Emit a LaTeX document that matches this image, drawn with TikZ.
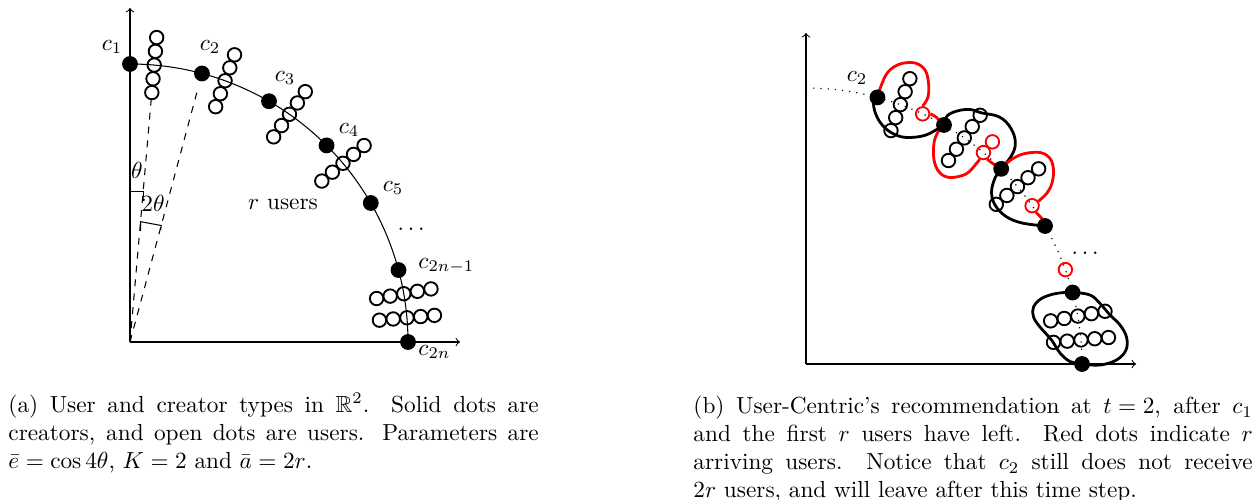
\documentclass[tikz,border=0pt]{standalone}
\usepackage{amsmath,amssymb}
\begin{document}
\begin{tikzpicture}[x=0.43pt,y=-0.43pt,
  creator/.style={circle,fill=black,inner sep=0pt,minimum size=6.8pt},
  user/.style={circle,draw=black,line width=0.8pt,inner sep=0pt,minimum size=5.8pt},
  newuser/.style={user,draw=red},
  axisline/.style={->,line width=0.45pt},
  blob/.style={line width=1.2pt},
  lbl/.style={inner sep=0pt}]
\useasboundingbox (0,0) rectangle (1256,500);

% ---------------- left diagram ----------------
\begin{scope}[shift={(130,342)}]
  \coordinate (LO) at (0,0);
  \coordinate (LYtip) at (0,-334);
  \coordinate (LXtip) at (330,0);
  \draw[axisline] (LO) -- (LYtip);
  \draw[axisline] (LO) -- (LXtip);
  \draw[line width=0.45pt] plot[domain=0:90,samples=90] ({278*sin(\x)},{-278*cos(\x)});
  \coordinate (LD1) at ({243*sin(5)},{-243*cos(5)});
  \coordinate (LD2) at ({262*sin(15)},{-262*cos(15)});
  \draw[dashed,line width=0.45pt] (LO) -- (LD1);
  \draw[dashed,line width=0.45pt] (LO) -- (LD2);
  \draw[line width=0.45pt] (0,-150.3) -- (13.3,-150.3) -- (13.3,-145.3);
  \draw[line width=0.45pt] (10.7,-111) -- (10.7,-120.3) -- (31.2,-116.5) -- (30.7,-112);
  \foreach \i/\a in {1/0,2/15,3/30,4/45,5/60,6/75,7/90}
    \node[creator] (lc\i) at ({278*sin(\a)},{-278*cos(\a)}) {};
  \foreach \r/\a in {1/5,2/20,3/35,4/50,5/80,6/85}
    \foreach \k in {1,...,5}
      \node[user] (lu\r-\k) at ({(278+(\k-3)*13.8)*sin(\a)},{-(278+(\k-3)*13.8)*cos(\a)}) {};
\end{scope}
\node[lbl] (tc1) at (112,47) {$c_1$};
\node[lbl] (tc2) at (210,47) {$c_2$};
\node[lbl] (tc3) at (285,78) {$c_3$};
\node[lbl] (tc4) at (349,130) {$c_4$};
\node[lbl] (tc5) at (393,188) {$c_5$};
\node[lbl,anchor=west] (tc6) at (418,266) {$c_{2n-1}$};
\node[lbl,anchor=west] (tc7) at (418,352) {$c_{2n}$};
\node[lbl] (tdots) at (413,229) {$\dots$};
\node[lbl] (tusers) at (283,204) {$r$ users};
\node[lbl] (tth) at (137,170) {$\theta$};
\node[lbl] (t2th) at (153,203) {$2\theta$};

% ---------------- right diagram ----------------
\begin{scope}[shift={(806,364)}]
  \coordinate (RO) at (0,0);
  \coordinate (RYtip) at (0,-331);
  \coordinate (RXtip) at (330,0);
  \draw[axisline] (RO) -- (RYtip);
  \draw[axisline] (RO) -- (RXtip);
  \draw[line width=0.5pt,dash pattern=on 0.5pt off 2.6pt] plot[domain=0:90,samples=90] ({276*sin(\x)},{-276*cos(\x)});
  \foreach \n/\a in {A/15,B/30,C/45,D/60,E/75,F/90}
    \coordinate (p\n) at ({276*sin(\a)},{-276*cos(\a)});
  \foreach \r/\a in {1/20,2/35,3/50,4/80,5/85}
    \foreach \k in {1,...,5}
      \node[user] (ru\r-\k) at ({(276+(\k-3)*13.8)*sin(\a)},{-(276+(\k-3)*13.8)*cos(\a)}) {};
  \node[newuser] (rr1) at ({276*sin(25)},{-276*cos(25)}) {};
  \node[newuser] (rr2) at ({276*sin(40)},{-276*cos(40)}) {};
  \node[newuser] (rr3) at ({290*sin(40)},{-290*cos(40)}) {};
  \node[newuser] (rr4) at ({276*sin(55)},{-276*cos(55)}) {};
  \node[newuser] (rr5) at ({276*sin(70)},{-276*cos(70)}) {};
\end{scope}

% blob 1
\draw[blob,red] plot[smooth,tension=0.6] coordinates {(pA) (881,86) (888,72) (900,64) (915,63) (925,70) (928.5,83) (928,97) (rr1.north)};
\draw[blob,red] plot[smooth,tension=0.6] coordinates {(rr1.east) (936,117) (pB)};
\draw[blob] plot[smooth,tension=0.6] coordinates {(pA) (873.5,104) (877,117) (885,128) (896,135) (908,137.5) (926,135) (pB)};
% blob 2
\draw[blob] plot[smooth,tension=0.6] coordinates {(pB) (947,116) (957,111) (970,109.5) (982,113) (997,116) (1007,123) (1014,135) (1015,147) (1010,158) (pC)};
\draw[blob,red] plot[smooth,tension=0.6] coordinates {(pB) (938,132) (934,143) (934,160) (939.5,172.5) (950,177.5) (966,174) (976,164) (rr2.240)};
\draw[blob,red] plot[smooth,tension=0.6] coordinates {(rr2.300) (992,163) (pC)};
% blob 3
\draw[blob,red] plot[smooth,tension=0.6] coordinates {(pC) (1010,160.5) (1023,154) (1040,152.5) (1050,158.5) (1053.5,170) (1052,183) (1047,193) (rr4.35)};
\draw[blob,red] plot[smooth,tension=0.6] coordinates {(rr4.300) (1043,220) (pD)};
\draw[blob] plot[smooth,tension=0.6] coordinates {(pC) (995,178) (991.5,192) (995,205) (1006,216.5) (1022,223) (pD)};
% blob 4
\draw[blob] plot[smooth cycle,tension=0.6] coordinates {(pE) (1056,293.5) (1041.5,298.5) (1033.5,307) (1033.5,317) (1040,327) (1051.5,340) (1060,353) (1070,361.5) (pF) (1100,365) (1116.5,360) (1126,350) (1126.5,337) (1120,325) (1110,315) (1100,303.5) (1090,295)};

\foreach \n in {A,B,C,D,E,F}
  \node[creator] (rc\n) at (p\n) {};
\node[lbl] (rtc2) at (857,78) {$c_2$};
\node[lbl] (rdots) at (1087,253) {$\dots$};

% ---------------- captions ----------------
\node[anchor=north west,text width=228pt,align=justify,inner sep=0pt] (capA) at (8,393)
 {(a) User and creator types in $\mathbb{R}^2$.  Solid dots are\linebreak
  creators, and open dots are users.  Parameters are\linebreak
  $\bar{e}=\cos 4\theta$, $K=2$ and $\bar{a}=2r$.};
\node[anchor=north west,text width=240.5pt,align=justify,inner sep=0pt] (capB) at (693,396)
 {\thickmuskip=5mu\medmuskip=4mu(b) User-Centric's recommendation at $t=2$, after $c_1$\linebreak
  and the first $r$ users have left.  Red dots indicate $r$\linebreak
  arriving users.  Notice that $c_2$ still does not receive\linebreak
  $2r$ users, and will leave after this time step.};
\end{tikzpicture}
\end{document}
